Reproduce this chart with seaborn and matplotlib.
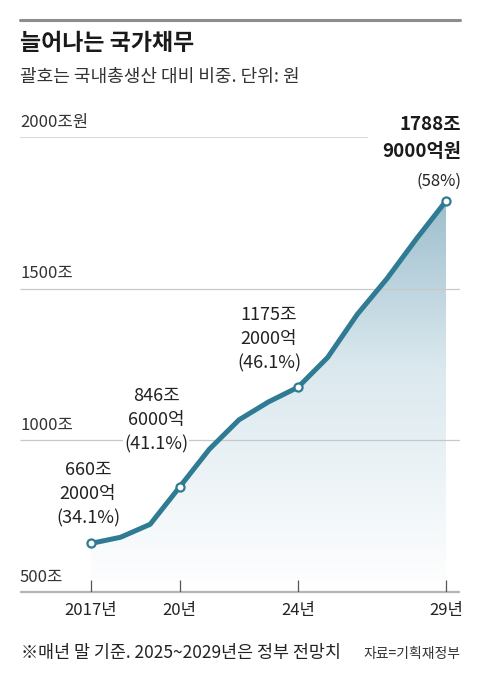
import numpy as np
import pandas as pd
import matplotlib.pyplot as plt
import seaborn as sns
from matplotlib.colors import LinearSegmentedColormap

# national debt, trillion won (2025~2029 government forecast)
years = [2017, 2018, 2019, 2020, 2021, 2022, 2023, 2024, 2025, 2026, 2027, 2028, 2029]
debt = [660.2, 680.5, 723.2, 846.6, 970.7, 1067.4, 1126.7, 1175.2, 1273.3, 1415.2, 1532.5, 1664.3, 1788.9]
marked_years = [2017, 2020, 2024, 2029]
tick_labels = ['2017년', '20년', '24년', '29년']
y_ticks = [500, 1000, 1500, 2000]
y_tick_labels = ['500조', '1000조', '1500조', '2000조원']
notes = {2017: '660조\n2000억\n(34.1%)',
         2020: '846조\n6000억\n(41.1%)',
         2024: '1175조\n2000억\n(46.1%)'}

df = pd.DataFrame({'year': years, 'debt': debt})

sns.set_style('white')
plt.rcParams['font.family'] = ['Noto Sans CJK KR', 'DejaVu Sans']

W, H = 480, 682
fig = plt.figure(figsize=(W / 100, H / 100), dpi=100)

def fx(px):
    return px / W

def fy(py):
    return 1 - py / H

# axes: 20..460 px wide, y=500 at 592px, y=2000 at 137px
ax = fig.add_axes([fx(20), fy(592), fx(440), (592 - 137) / H])
px_per_year = (446 - 91) / 12
x0 = 2017 + (20 - 91) / px_per_year
x1 = 2017 + (460 - 91) / px_per_year
ax.set_xlim(x0, x1)
ax.set_ylim(500, 2000)
ax.axis('off')

line_col = '#2f7b93'

# gradient fill under the line
grad = LinearSegmentedColormap.from_list('g', ['#ffffff', '#dae8ee', '#86aec1'])
img = ax.imshow(np.linspace(0, 1, 256).reshape(-1, 1), cmap=grad, aspect='auto',
                extent=[x0, x1, 500, 2000], origin='lower', zorder=1)
poly = ax.fill_between(df['year'], df['debt'], 500, color='none', lw=0)
img.set_clip_path(poly.get_paths()[0], transform=ax.transData)

# grid lines
ax.hlines([1000, 1500], x0, x1, color='#c8c8c8', lw=0.9, zorder=2)
ax.hlines(2000, x0, 2026.35, color='#dadada', lw=1.5, zorder=2)
ax.hlines(500, x0, x1, color='#b5b5b5', lw=1.6, zorder=2, clip_on=False)
ax.vlines(marked_years, 500, 540, color='#555555', lw=0.9, zorder=2)

sns.lineplot(data=df, x='year', y='debt', ax=ax, color=line_col, lw=3.6,
             zorder=4, legend=False)
mk = df[df['year'].isin(marked_years)]
ax.scatter(mk['year'], mk['debt'], s=34, facecolor='white', edgecolor=line_col,
           linewidths=1.6, zorder=5, clip_on=False)

# value labels
label_pos = {2017: (88, 494), 2020: (156, 420), 2024: (269, 339)}
for yr, txt in notes.items():
    xp, yp = label_pos[yr]
    fig.text(fx(xp), fy(yp), txt, ha='center', va='center', fontsize=13,
             color='#222222', linespacing=1.45, zorder=6,
             bbox=dict(facecolor='white', edgecolor='none', pad=0.5))
fig.text(fx(461), fy(138), '1788조\n9000억원', ha='right', va='center', fontsize=13.5,
         fontweight='bold', color='#1a1a1a', linespacing=1.5)
fig.text(fx(461), fy(181), '(58%)', ha='right', va='center', fontsize=12,
         color='#222222')

# y tick labels
for val, lab in zip(y_ticks, y_tick_labels):
    ypx = 592 - (val - 500) * (592 - 137) / 1500
    fig.text(fx(20), fy(ypx - 15), lab, ha='left', va='center', fontsize=12,
             color='#333333')

# x tick labels
for yr, lab in zip(marked_years, tick_labels):
    xpx = 91 + (yr - 2017) * px_per_year
    fig.text(fx(xpx), fy(610), lab, ha='center', va='center', fontsize=12,
             color='#222222')

# header
fig.add_artist(plt.Line2D([fx(20), fx(460)], [fy(20), fy(20)], color='#8c8c8c', lw=2.2))
fig.text(fx(20), fy(43), '늘어나는 국가채무', ha='left', va='center', fontsize=16.5,
         fontweight='bold', color='#1a1a1a')
fig.text(fx(20), fy(77), '괄호는 국내총생산 대비 비중. 단위: 원', ha='left', va='center',
         fontsize=13, color='#333333')

# footer
fig.text(fx(21), fy(653), '※매년 말 기준. 2025~2029년은 정부 전망치', ha='left',
         va='center', fontsize=12.5, color='#222222')
fig.text(fx(460), fy(654), '자료=기획재정부', ha='right', va='center', fontsize=10,
         color='#333333')

fig.savefig('out.png', dpi=100)
